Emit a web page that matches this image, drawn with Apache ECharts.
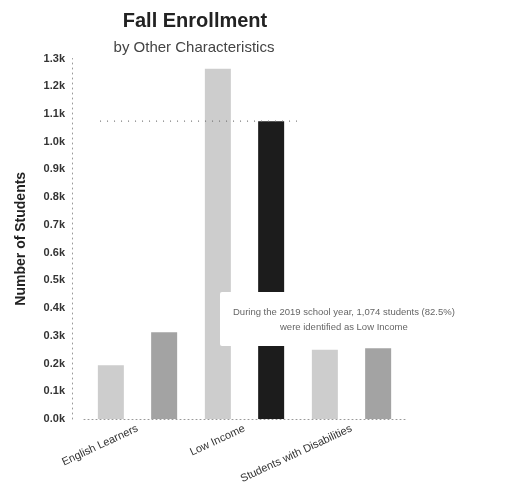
<!DOCTYPE html>
<html>
<head>
<meta charset="utf-8">
<script src="https://cdn.jsdelivr.net/npm/echarts@6/dist/echarts.min.js"></script>
<style>
  html, body { margin: 0; padding: 0; background: #fff; }
  #main { width: 516px; height: 495px; }
</style>
</head>
<body>
<div id="main"></div>
<script>
// categories on the x axis
const categories = ['English Learners', 'Low Income', 'Students with Disabilities'];
// two bars per category
const seriesA = [194, 1263, 250];
const seriesB = [313, 1074, 255];
// share of students for the highlighted bar tooltip
const sharesB = [null, 82.5, null];
const schoolYear = 2019;
// y axis ticks
const yMin = 0;
const yMax = 1300;
const yStep = 100;
// dotted reference line (x in category units, y in students)
const refLineX = [-0.35, 1.49];
const refLineY = [1074, 1074];

const chart = echarts.init(document.getElementById('main'), null, { renderer: 'canvas' });

const option = {
  animation: false,
  backgroundColor: '#ffffff',
  textStyle: { fontFamily: 'Liberation Sans, Arial, sans-serif' },
  title: [
    {
      text: 'Fall Enrollment',
      left: 190,
      top: 6,
      textAlign: 'center',
      textStyle: { fontSize: 20, fontWeight: 'bold', color: '#222' }
    },
    {
      text: 'by Other Characteristics',
      left: 189,
      top: 35,
      textAlign: 'center',
      textStyle: { fontSize: 15, fontWeight: 'normal', color: '#444' }
    }
  ],
  tooltip: {
    trigger: 'item',
    alwaysShowContent: true,
    transitionDuration: 0,
    position: [220, 292],
    backgroundColor: '#ffffff',
    borderWidth: 0,
    borderRadius: 2,
    padding: [12, 13],
    extraCssText: 'box-shadow:none;text-align:center;',
    textStyle: { fontSize: 9.5, color: '#666', lineHeight: 15, fontFamily: 'Liberation Sans, Arial, sans-serif' },
    formatter: function (p) {
      const share = sharesB[p.dataIndex];
      return 'During the ' + schoolYear + ' school year, ' + p.value.toLocaleString('en-US') +
        ' students (' + share + '%)<br/>were identified as ' + p.name;
    }
  },
  grid: { left: 84, right: 111, top: 58.5, bottom: 76 },
  xAxis: [
    {
      type: 'category',
      data: categories,
      axisTick: { show: false },
      axisLine: { lineStyle: { color: '#999', type: [1, 3] } },
      axisLabel: { interval: 0, rotate: 25, fontSize: 11, color: '#333', margin: 9 }
    },
    {
      type: 'value',
      show: false,
      min: -0.5,
      max: categories.length - 0.5
    }
  ],
  yAxis: {
    type: 'value',
    min: yMin,
    max: yMax,
    interval: yStep,
    offset: 12,
    name: 'Number of Students',
    nameLocation: 'middle',
    nameGap: 44,
    nameTextStyle: { fontSize: 14, fontWeight: 'bold', color: '#222' },
    splitLine: { show: false },
    axisTick: { show: false },
    axisLine: { show: true, onZero: false, lineStyle: { color: '#999', type: [1, 4] } },
    axisLabel: {
      fontSize: 11,
      fontWeight: 'bold',
      color: '#333',
      margin: 7,
      formatter: v => (v / 1000).toFixed(1) + 'k'
    }
  },
  series: [
    {
      name: 'A',
      type: 'bar',
      data: seriesA,
      barWidth: 26,
      barGap: '105%',
      itemStyle: { color: '#cdcdcd' }
    },
    {
      name: 'B',
      type: 'bar',
      data: seriesB,
      barWidth: 26,
      itemStyle: { color: '#a3a3a3' },
      emphasis: { itemStyle: { color: '#1c1c1c' } }
    },
    {
      name: 'ref',
      type: 'line',
      xAxisIndex: 1,
      data: refLineX.map((x, i) => [x, refLineY[i]]),
      symbol: 'none',
      silent: true,
      tooltip: { show: false },
      lineStyle: { color: '#777', width: 1.2, type: [1, 6] },
      z: 5
    }
  ]
};

chart.setOption(option);
chart.dispatchAction({ type: 'highlight', seriesIndex: 1, dataIndex: 1 });
chart.dispatchAction({ type: 'showTip', seriesIndex: 1, dataIndex: 1 });
</script>
</body>
</html>
